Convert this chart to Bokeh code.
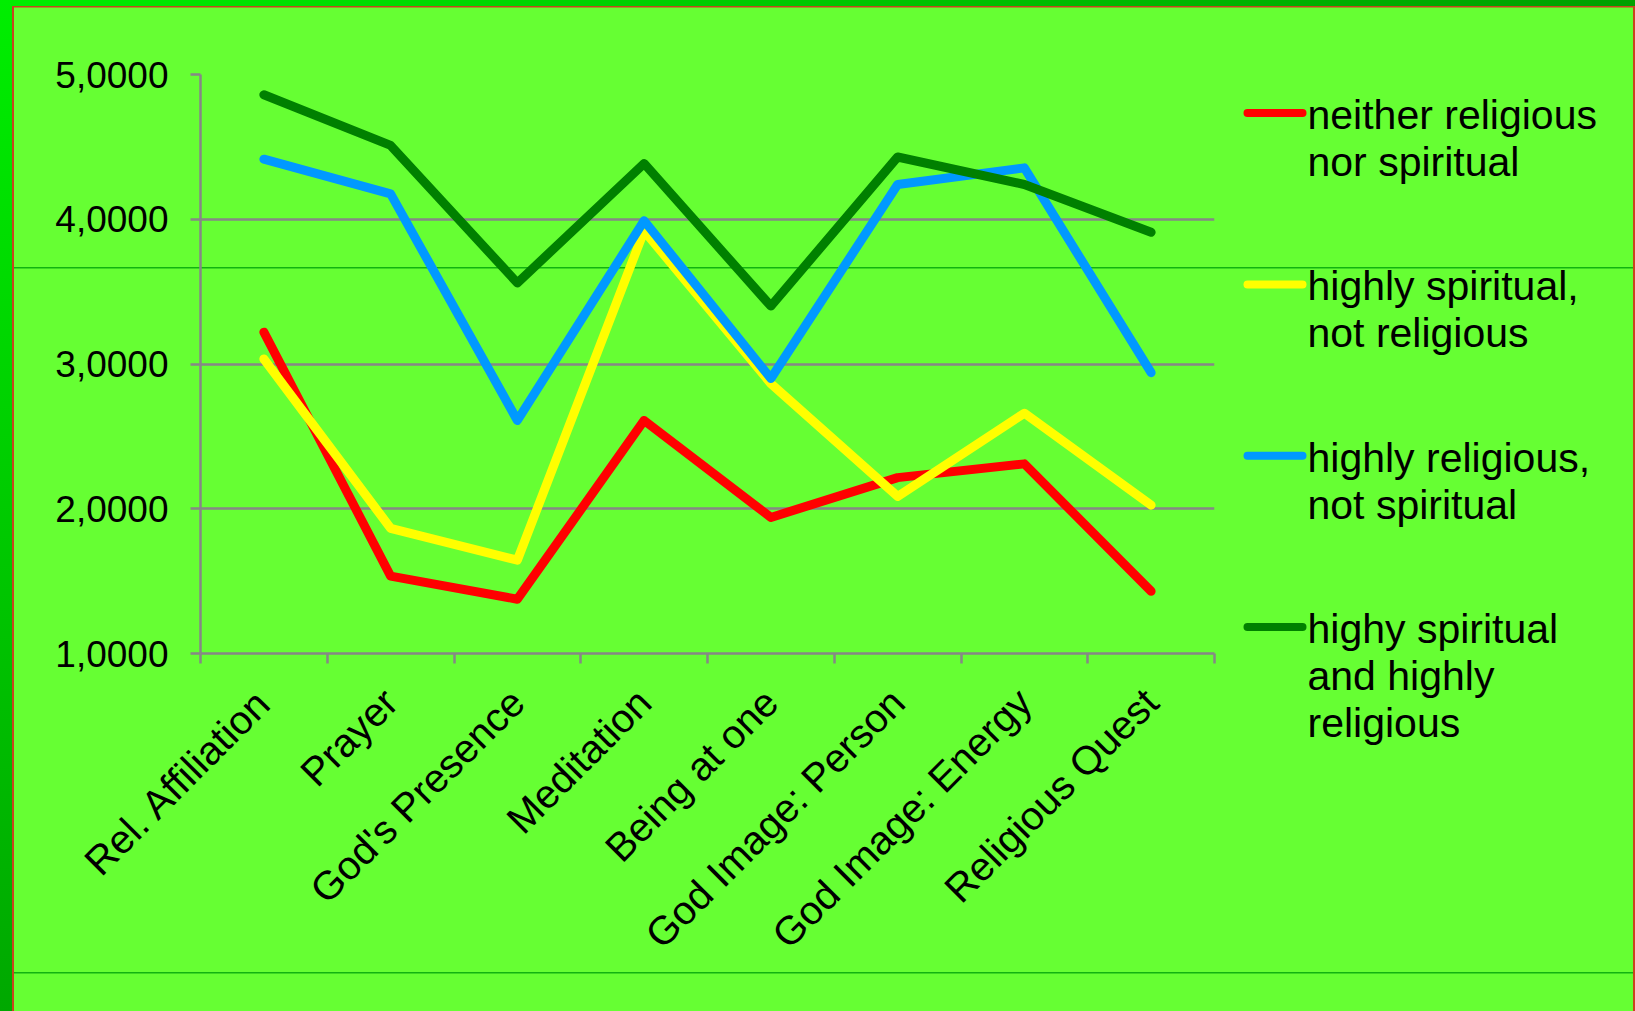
from bokeh.plotting import figure
from bokeh.layouts import row
from bokeh.models import Range1d, FixedTicker, LinearAxis
from bokeh.core.properties import value
from bokeh.embed import file_html
from bokeh.resources import INLINE
import math

# --- data -------------------------------------------------------------
categories = ["Rel. Affiliation", "Prayer", "God's Presence", "Meditation",
              "Being at one", "God Image: Person", "God Image: Energy",
              "Religious Quest"]

neither = [3.22, 1.535, 1.375, 2.61, 1.94, 2.215, 2.31, 1.43]
spiritual_not_religious = [3.035, 1.865, 1.645, 3.92, 2.865, 2.085, 2.66, 2.025]
religious_not_spiritual = [4.415, 4.175, 2.61, 3.99, 2.90, 4.24, 4.355, 2.94]
both = [4.86, 4.51, 3.56, 4.385, 3.40, 4.43, 4.24, 3.91]

y_ticks = [1, 2, 3, 4, 5]
y_tick_labels = ["1,0000", "2,0000", "3,0000", "4,0000", "5,0000"]

series_names = [
    ["neither religious", "nor spiritual"],
    ["highly spiritual,", "not religious"],
    ["highly religious,", "not spiritual"],
    ["highy spiritual", "and highly", "religious"],
]
series_values = [neither, spiritual_not_religious, religious_not_spiritual, both]
series_colors = ["#ff0000", "#ffff00", "#0099ff", "#008000"]

# --- page geometry ----------------------------------------------------
W, H = 1635, 1011
FL, FR, FT, FB = 200, 1214, 74, 653   # chart frame edges in page pixels
PW = 1240                             # width of the chart part; legend to the right
LW = W - PW
BG = "#66ff33"
FONT = "Liberation Sans"
GREY = "#878787"
RED = "#c8441e"
RULE = "#11b311"


def mix(c0, c1, t):
    a = [int(c0[j:j + 2], 16) for j in (1, 3, 5)]
    b = [int(c1[j:j + 2], 16) for j in (1, 3, 5)]
    return "#" + "".join(f"{round(u + (v - u) * t):02x}" for u, v in zip(a, b))


def bar(color, x, y, w, h):
    return f"linear-gradient({color},{color}) {x}px {y}px / {w}px {h}px no-repeat"


TOP0, TOP1 = "#00ee00", "#00a000"
top_mid = mix(TOP0, TOP1, PW / W)

# slide decoration behind the chart (CSS layers, first one on top)
chart_bg = ", ".join([
    bar(RED, 12, 6, 2, H),
    bar(RED, 12, 6, PW, 1.5),
    bar(RULE, 14, 266.5, PW, 1.5),
    bar(RULE, 14, 971.5, PW, 1.5),
    f"linear-gradient(to bottom, #00ee00, #00a800) 0px 0px / 12px {H}px no-repeat",
    f"linear-gradient(to right, {TOP0}, {top_mid}) 0px 0px / {PW}px 6px no-repeat",
    BG,
])
legend_bg = ", ".join([
    bar(RED, LW - 2, 6, 2, H),
    bar(RED, 0, 6, LW, 1.5),
    bar(RULE, 0, 266.5, LW, 1.5),
    bar(RULE, 0, 971.5, LW, 1.5),
    f"linear-gradient(to right, {top_mid}, {TOP1}) 0px 0px / {LW}px 6px no-repeat",
    BG,
])


def no_frame_align(fig):
    try:
        fig.frame_align = False
    except AttributeError:
        pass


n = len(categories)
xs = [i + 0.5 for i in range(n)]

p = figure(width=PW, height=H, output_backend="svg", toolbar_location=None,
           x_range=Range1d(0, n), y_range=Range1d(1, 5),
           min_border_left=FL, min_border_right=PW - FR,
           min_border_top=FT, min_border_bottom=H - FB,
           x_axis_location=None, y_axis_location=None)
p.background_fill_color = None
p.border_fill_color = None
p.outline_line_color = None
p.styles = {"background": chart_bg}
no_frame_align(p)

# x axis: names in the middle of each category, tick marks on the boundaries
xaxis = LinearAxis(ticker=FixedTicker(ticks=xs, minor_ticks=list(range(n + 1))))
xaxis.major_label_overrides = {x: c for x, c in zip(xs, categories)}
xaxis.major_label_orientation = math.pi / 4
xaxis.major_label_text_font = FONT
xaxis.major_label_text_font_size = "40px"
xaxis.major_label_text_color = "black"
xaxis.major_label_standoff = 32
xaxis.axis_line_color = GREY
xaxis.axis_line_width = 2.5
xaxis.major_tick_line_color = None
xaxis.major_tick_out = 0
xaxis.major_tick_in = 0
xaxis.minor_tick_line_color = GREY
xaxis.minor_tick_line_width = 2.5
xaxis.minor_tick_out = 10
xaxis.minor_tick_in = 0
p.add_layout(xaxis, "below")

yaxis = LinearAxis(ticker=FixedTicker(ticks=y_ticks, minor_ticks=[]))
yaxis.major_label_overrides = {t: s for t, s in zip(y_ticks, y_tick_labels)}
yaxis.major_label_text_font = FONT
yaxis.major_label_text_font_size = "37px"
yaxis.major_label_text_color = "black"
yaxis.major_label_standoff = 22
yaxis.axis_line_color = GREY
yaxis.axis_line_width = 2.5
yaxis.major_tick_line_color = GREY
yaxis.major_tick_line_width = 2.5
yaxis.major_tick_out = 10
yaxis.major_tick_in = 0
yaxis.minor_tick_line_color = None
p.add_layout(yaxis, "left")

p.xgrid.visible = False
p.ygrid.ticker = FixedTicker(ticks=y_ticks)
p.ygrid.grid_line_color = GREY
p.ygrid.grid_line_width = 2.5

# series lines, later series drawn on top
for vals, col in zip(series_values, series_colors):
    p.line(xs, vals, line_color=col, line_width=9,
           line_join="round", line_cap="round")

# legend panel: its coordinates are plain pixels, y growing downwards
q = figure(width=LW, height=H, output_backend="svg", toolbar_location=None,
           x_range=Range1d(0, LW), y_range=Range1d(H, 0),
           min_border=0, x_axis_location=None, y_axis_location=None)
q.background_fill_color = None
q.border_fill_color = None
q.outline_line_color = None
q.grid.visible = False
q.styles = {"background": legend_bg}
no_frame_align(q)

SW_X0, SW_X1, TXT_X = 1247 - PW, 1302 - PW, 1307 - PW
SW_Y0, SW_STEP, LINE_H, BASE_DY = 112.6, 171.3, 47, 2
for i, (lines, col) in enumerate(zip(series_names, series_colors)):
    cy = SW_Y0 + i * SW_STEP
    q.segment(x0=[SW_X0], y0=[cy], x1=[SW_X1], y1=[cy], line_color=col,
              line_width=8, line_cap="round")
    q.text(x=[TXT_X] * len(lines),
           y=[cy + BASE_DY + k * LINE_H for k in range(len(lines))],
           text=lines, text_font=value(FONT), text_font_size="41px",
           text_color="black", text_baseline="alphabetic", text_align="left")

layout = row(p, q, spacing=0)
open("out.html", "w").write(file_html(layout, INLINE))
